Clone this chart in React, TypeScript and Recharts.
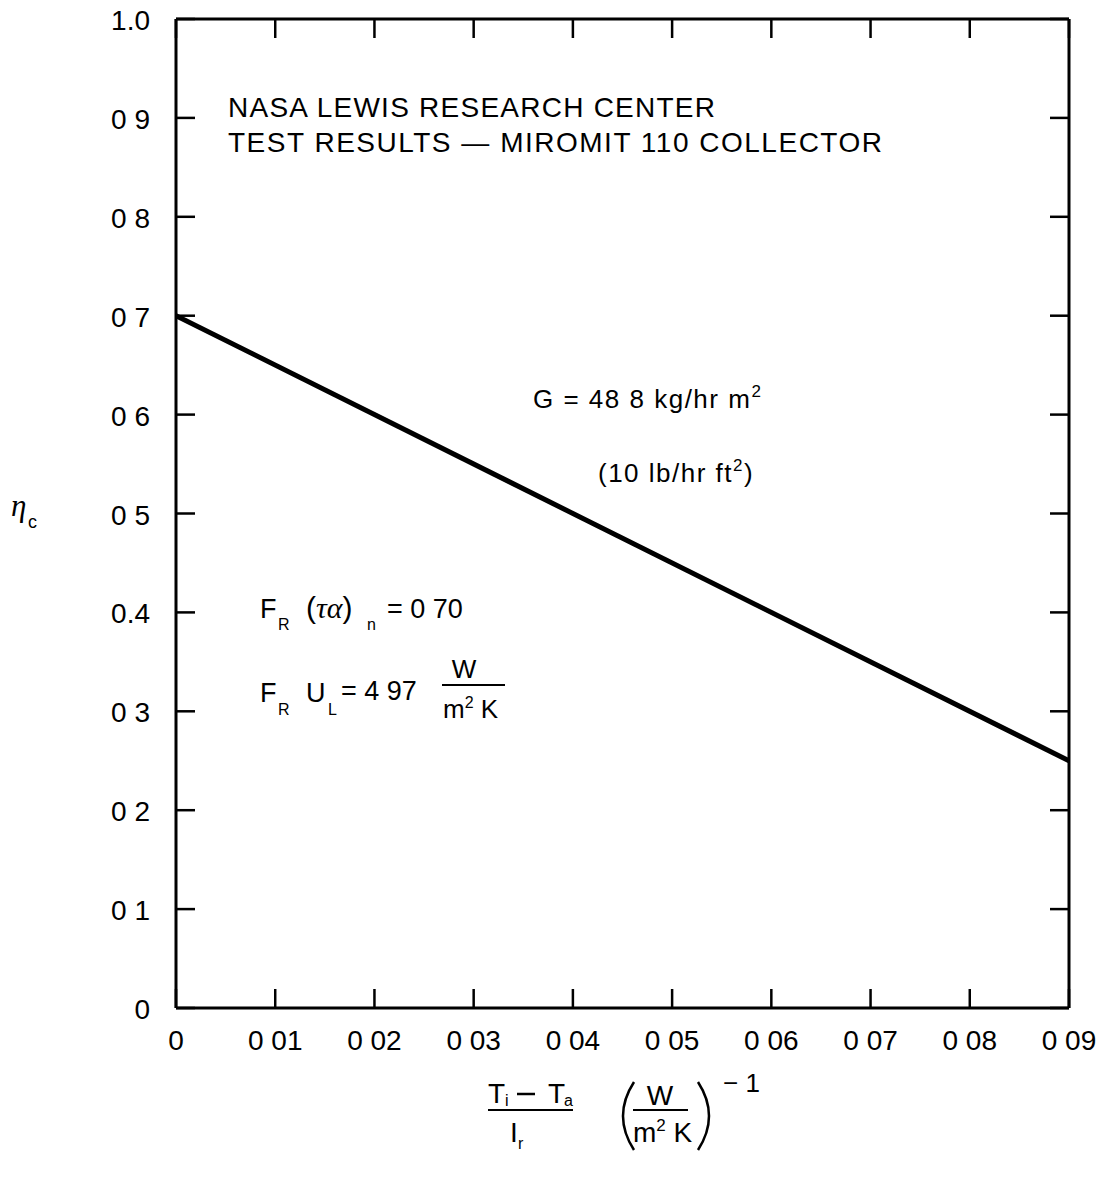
import { LineChart, Line, XAxis, YAxis } from "recharts";

// collector efficiency line
const ratio = [0, 0.09];
const efficiency = [0.7, 0.25];

const xTicks = [0, 0.01, 0.02, 0.03, 0.04, 0.05, 0.06, 0.07, 0.08, 0.09];
const xTickLabels = ["0", "0 01", "0 02", "0 03", "0 04", "0 05", "0 06", "0 07", "0 08", "0 09"];
const yTicks = [0, 0.1, 0.2, 0.3, 0.4, 0.5, 0.6, 0.7, 0.8, 0.9, 1.0];
const yTickLabels = ["0", "0 1", "0 2", "0 3", "0.4", "0 5", "0 6", "0 7", "0 8", "0 9", "1.0"];

const data = ratio.map((x, i) => ({ x, eta: efficiency[i] }));

const FONT = "'Liberation Sans', Arial, Helvetica, sans-serif";
const SERIF = "'Liberation Serif', 'DejaVu Serif', serif";
const TICK_LEN = 19;
const W = 1100;
const H = 1176;

function LeftTick({ x, y, payload }: any) {
  const label = yTickLabels[yTicks.indexOf(payload.value)];
  return (
    <g>
      <line x1={x} y1={y} x2={x + TICK_LEN} y2={y} stroke="#000" strokeWidth={2.5} />
      <text x={x - 26} y={y + 11} textAnchor="end" fontSize={28} fontFamily={FONT} fill="#000">
        {label}
      </text>
    </g>
  );
}

function RightTick({ x, y }: any) {
  return <line x1={x} y1={y} x2={x - TICK_LEN} y2={y} stroke="#000" strokeWidth={2.5} />;
}

function BottomTick({ x, y, payload }: any) {
  const label = xTickLabels[xTicks.indexOf(payload.value)];
  return (
    <g>
      <line x1={x} y1={y} x2={x} y2={y - TICK_LEN} stroke="#000" strokeWidth={2.5} />
      <text x={x} y={y + 42} textAnchor="middle" fontSize={28} fontFamily={FONT} fill="#000">
        {label}
      </text>
    </g>
  );
}

function TopTick({ x, y }: any) {
  return <line x1={x} y1={y} x2={x} y2={y + TICK_LEN} stroke="#000" strokeWidth={2.5} />;
}

function Notes() {
  const t = { fontFamily: FONT, fill: "#000" };
  const mid = { fontFamily: FONT, fill: "#000", fontSize: 26, letterSpacing: 1.5 };
  return (
    <svg width={W} height={H} style={{ position: "absolute", left: 0, top: 0, pointerEvents: "none" }}>
      <text x={228} y={117} fontSize={28} textLength={487} lengthAdjust="spacing" {...t}>
        NASA LEWIS RESEARCH CENTER
      </text>
      <text x={228} y={152} fontSize={28} textLength={654} lengthAdjust="spacing" {...t}>
        TEST RESULTS — MIROMIT 110 COLLECTOR
      </text>

      <text x={533} y={408} {...mid}>
        G = 48 8 kg/hr m<tspan fontSize={17} dy={-11}>2</tspan>
      </text>
      <text x={598} y={482} {...mid}>
        (10 lb/hr ft<tspan fontSize={17} dy={-11}>2</tspan>
        <tspan dy={11}>)</tspan>
      </text>

      {/* F_R (tau alpha)_n = 0 70 */}
      <text x={260} y={618} fontSize={27} {...t}>F</text>
      <text x={278} y={630} fontSize={16} {...t}>R</text>
      <text x={306} y={618} fontSize={30} {...t}>
        (<tspan fontStyle="italic" fontFamily={SERIF}>τα</tspan>)
      </text>
      <text x={367} y={630} fontSize={16} {...t}>n</text>
      <text x={387} y={618} fontSize={27} {...t}>= 0 70</text>

      {/* F_R U_L = 4 97 W / m2 K */}
      <text x={260} y={702} fontSize={27} {...t}>F</text>
      <text x={278} y={715} fontSize={16} {...t}>R</text>
      <text x={306} y={702} fontSize={27} {...t}>U</text>
      <text x={328} y={715} fontSize={16} {...t}>L</text>
      <text x={341} y={700} fontSize={27} {...t}>= 4 97</text>
      <text x={464} y={678} fontSize={26} textAnchor="middle" {...t}>W</text>
      <line x1={442} y1={685} x2={505} y2={685} stroke="#000" strokeWidth={2} />
      <text x={443} y={718} fontSize={26} {...t}>
        m<tspan fontSize={16} dy={-10}>2</tspan>
        <tspan dy={10}> K</tspan>
      </text>

      {/* y axis title */}
      <text x={11} y={516} fontSize={31} fontStyle="italic" fontFamily={SERIF} fill="#000">η</text>
      <text x={28} y={528} fontSize={18} {...t}>c</text>

      {/* x axis title */}
      <text x={488} y={1103} fontSize={28} {...t}>T</text>
      <text x={505} y={1106} fontSize={16} {...t}>i</text>
      <line x1={517} y1={1094} x2={535} y2={1094} stroke="#000" strokeWidth={2.5} />
      <text x={548} y={1103} fontSize={28} {...t}>T</text>
      <text x={564} y={1106} fontSize={16} {...t}>a</text>
      <line x1={488} y1={1110} x2={573} y2={1110} stroke="#000" strokeWidth={2} />
      <text x={510} y={1142} fontSize={28} {...t}>I</text>
      <text x={518} y={1149} fontSize={16} {...t}>r</text>

      <path d="M 634 1082 Q 612 1116 634 1150" fill="none" stroke="#000" strokeWidth={2.5} />
      <path d="M 698 1082 Q 720 1116 698 1150" fill="none" stroke="#000" strokeWidth={2.5} />
      <text x={660} y={1105} fontSize={28} textAnchor="middle" {...t}>W</text>
      <line x1={633} y1={1110} x2={688} y2={1110} stroke="#000" strokeWidth={2} />
      <text x={633} y={1142} fontSize={28} {...t}>
        m<tspan fontSize={17} dy={-11}>2</tspan>
        <tspan dy={11}> K</tspan>
      </text>
      <text x={723} y={1092} fontSize={26} {...t}>− 1</text>
    </svg>
  );
}

export default function App() {
  return (
    <div style={{ position: "relative", width: W, height: H, margin: "-8px 0 0 -8px", background: "#fff" }}>
      <LineChart width={W} height={H} data={data} margin={{ top: 18, right: 30, bottom: 108, left: 0 }}>
        <XAxis
          xAxisId="b"
          dataKey="x"
          type="number"
          domain={[0, 0.09]}
          allowDataOverflow
          ticks={xTicks}
          interval={0}
          height={60}
          tickSize={0}
          tickMargin={0}
          tickLine={false}
          axisLine={{ stroke: "#000", strokeWidth: 3 }}
          tick={<BottomTick />}
        />
        <XAxis
          xAxisId="t"
          orientation="top"
          dataKey="x"
          type="number"
          domain={[0, 0.09]}
          allowDataOverflow
          ticks={xTicks}
          interval={0}
          height={1}
          tickSize={0}
          tickMargin={0}
          tickLine={false}
          axisLine={{ stroke: "#000", strokeWidth: 3 }}
          tick={<TopTick />}
        />
        <YAxis
          yAxisId="l"
          type="number"
          domain={[0, 1]}
          allowDataOverflow
          ticks={yTicks}
          interval={0}
          width={176}
          tickSize={0}
          tickMargin={0}
          tickLine={false}
          axisLine={{ stroke: "#000", strokeWidth: 3 }}
          tick={<LeftTick />}
        />
        <YAxis
          yAxisId="r"
          orientation="right"
          type="number"
          domain={[0, 1]}
          allowDataOverflow
          ticks={yTicks}
          interval={0}
          width={1}
          tickSize={0}
          tickMargin={0}
          tickLine={false}
          axisLine={{ stroke: "#000", strokeWidth: 3 }}
          tick={<RightTick />}
        />
        <Line
          xAxisId="b"
          yAxisId="l"
          dataKey="eta"
          stroke="#000"
          strokeWidth={5}
          dot={false}
          isAnimationActive={false}
        />
      </LineChart>
      <Notes />
    </div>
  );
}
